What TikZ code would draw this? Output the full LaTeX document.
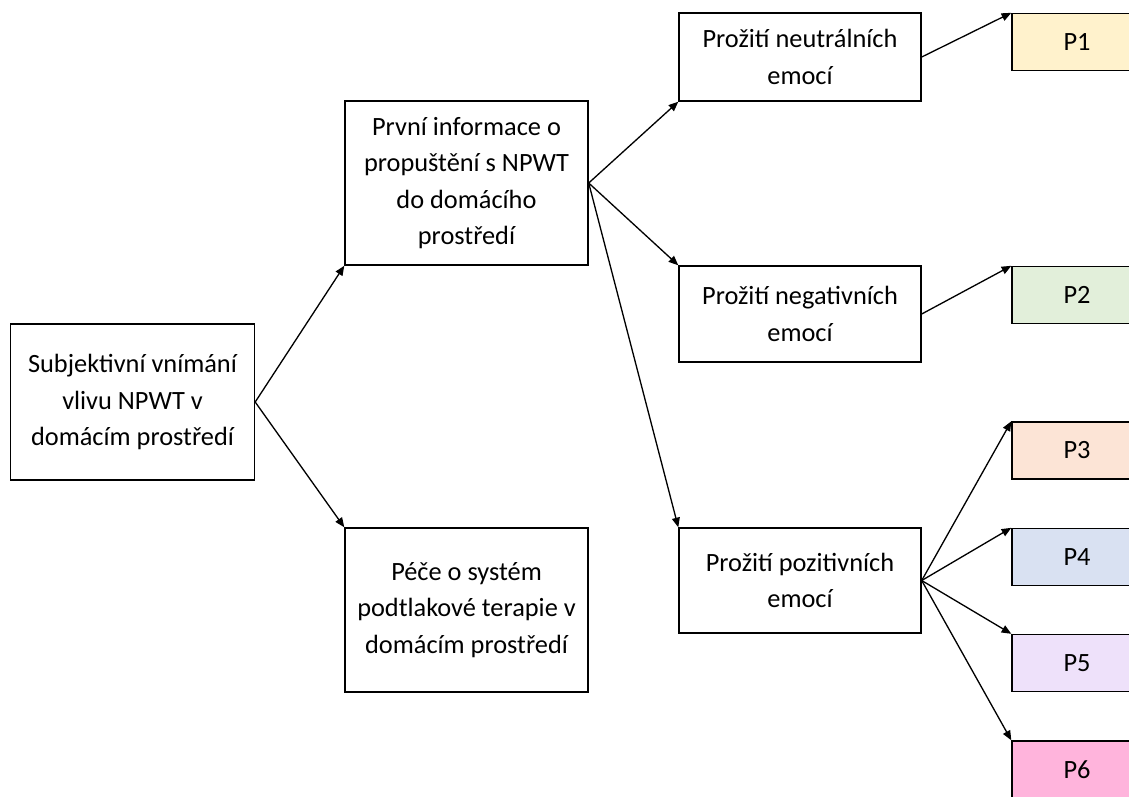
\documentclass[tikz,border=0pt]{standalone}
\usepackage{fontspec}
\setmainfont{Carlito}
\usetikzlibrary{positioning, arrows.meta}
\definecolor{pyellow}{HTML}{FFF2CC}
\definecolor{pgreen}{HTML}{E2EFDA}
\definecolor{porange}{HTML}{FCE4D6}
\definecolor{pblue}{HTML}{D9E1F2}
\definecolor{pviolet}{HTML}{EEE1FA}
\definecolor{ppink}{HTML}{FFB4DC}

\begin{document}
\begin{tikzpicture}[x=0.02cm, y=-0.02cm,
    font=\fontsize{15}{20.8}\selectfont,
    box/.style={draw=black, line width=0.8pt, fill=white, align=center, inner sep=0pt},
    pbox/.style={box, minimum width=130*0.02cm, minimum height=57*0.02cm},
    arr/.style={-{Triangle[length=5.5pt, width=4.5pt]}, line width=0.75pt}]
    \path[use as bounding box, clip] (0,0) rectangle (1129,796);
    % main themes
    \node[box, minimum width=244*0.02cm, minimum height=156*0.02cm] (subj) at (132.5,402)
          {Subjektivní vnímání\\vlivu NPWT v\\domácím prostředí};
    \node[box, minimum width=243*0.02cm, minimum height=164*0.02cm] (info) at (466.5,183)
          {První informace o\\propuštění s NPWT\\do domácího\\prostředí};
    \node[box, minimum width=243*0.02cm, minimum height=164*0.02cm] (pece) at (466.5,610)
          {Péče o systém\\podtlakové terapie v\\domácím prostředí};
    % emotions
    \node[box, minimum width=242*0.02cm, minimum height=88*0.02cm] (neutr) at (800,57)
          {Prožití neutrálních\\emocí};
    \node[box, minimum width=242*0.02cm, minimum height=96*0.02cm] (negat) at (800,314)
          {Prožití negativních\\emocí};
    \node[box, minimum width=242*0.02cm, minimum height=105*0.02cm] (pozit) at (800,580.5)
          {Prožití pozitivních\\emocí};
    % participants
    \node[pbox, fill=pyellow] (p1) at (1077,42) {P1};
    \node[pbox, fill=pgreen] (p2) at (1077,295) {P2};
    \node[pbox, fill=porange] (p3) at (1077,450.5) {P3};
    \node[pbox, fill=pblue] (p4) at (1077,557) {P4};
    \node[pbox, fill=pviolet] (p5) at (1077,663) {P5};
    \node[pbox, fill=ppink] (p6) at (1077,769.5) {P6};
    % connectors
    \draw[arr] (subj.east) -- (info.south west);
    \draw[arr] (subj.east) -- (pece.north west);
    \draw[arr] (info.east) -- (neutr.south west);
    \draw[arr] (info.east) -- (negat.north west);
    \draw[arr] (info.east) -- (pozit.north west);
    \draw[arr] (neutr.east) -- (p1.north west);
    \draw[arr] (negat.east) -- (p2.north west);
    \foreach \p in {p3,p4,p5,p6}
        \draw[arr] (pozit.east) -- (\p.north west);
\end{tikzpicture}
\end{document}
